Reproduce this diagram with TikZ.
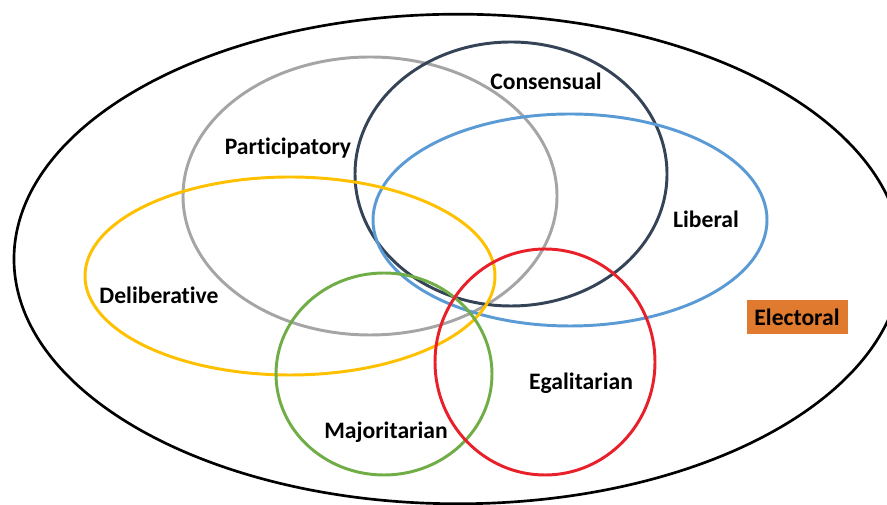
\documentclass[tikz,border=0pt]{standalone}
\usepackage{fontspec}
\setmainfont{Carlito}[Ligatures=NoCommon]
\usepackage{xcolor}

\definecolor{partgray}{HTML}{A5A5A5}
\definecolor{consnavy}{HTML}{344356}
\definecolor{libblue}{HTML}{5B9BD5}
\definecolor{delyellow}{HTML}{FFC000}
\definecolor{majgreen}{HTML}{70AD47}
\definecolor{egared}{HTML}{E8202A}
\definecolor{elecorange}{HTML}{E07A2E}

\tikzset{
  model/.style={line width=2.1pt},
  tag/.style={font=\bfseries\fontsize{16.8}{20}\selectfont, inner sep=0pt, anchor=base},
}

\begin{document}
\begin{tikzpicture}
\useasboundingbox (0,0) rectangle (22.175,12.625);

% outer set
\draw[line width=1.9pt] (11.45,6.15) ellipse [x radius=11.1, y radius=6.12];

% the six models
\draw[model, partgray]  (9.25,7.725)  ellipse [x radius=4.675, y radius=3.475];
\draw[model, consnavy]  (12.775,8.275) ellipse [x radius=3.9, y radius=3.3];
\draw[model, libblue]   (14.25,7.125) ellipse [x radius=4.925, y radius=2.65];
\draw[model, delyellow] (7.25,5.725)  ellipse [x radius=5.125, y radius=2.475];
\draw[model, majgreen]  (9.6,3.275)   ellipse [x radius=2.7, y radius=2.525];
\draw[model, egared]    (13.625,3.575) ellipse [x radius=2.75, y radius=2.825];

\node[tag] (consensual)   at (13.65,10.375) {Consensual};
\node[tag] (participatory) at (7.2,8.75)    {Participatory};
\node[tag] (liberal)      at (17.65,6.925)  {Liberal};
\node[tag] (deliberative) at (3.975,5.025)  {Deliberative};
\node[tag] (egalitarian)  at (14.525,2.875) {Egalitarian};
\node[tag] (majoritarian) at (9.65,1.65)    {Majoritarian};

\node[fill=elecorange, minimum width=2.525cm, minimum height=0.85cm,
      font=\bfseries\fontsize{16.8}{20}\selectfont] (electoral) at (19.925,4.7) {Electoral};

\end{tikzpicture}
\end{document}
